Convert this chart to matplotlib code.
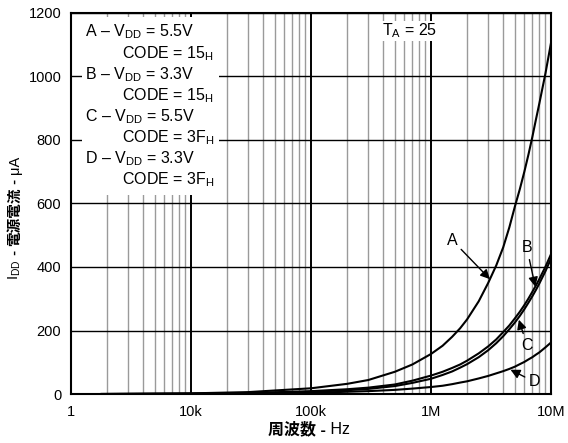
import numpy as np
import matplotlib
matplotlib.use('Agg')
import matplotlib.pyplot as plt
from matplotlib.patches import Rectangle
from matplotlib.ticker import LogLocator, NullFormatter

plt.rcParams['font.family'] = ['Liberation Sans', 'Noto Sans CJK JP']
plt.rcParams['mathtext.fontset'] = 'custom'
plt.rcParams['mathtext.rm'] = 'Liberation Sans'
plt.rcParams['mathtext.default'] = 'regular'

# supply current (uA) vs clock frequency (Hz), four supply/code conditions
freq = [1.8e3, 1e4, 3e4, 1e5, 2e5, 3e5, 5e5, 7e5, 1e6, 1.25e6, 1.5e6, 1.75e6, 2e6, 2.5e6,
        3e6, 3.5e6, 4e6, 4.5e6, 5e6, 5.5e6, 6e6, 6.5e6, 7e6, 7.5e6, 8e6, 9e6, 1e7]
idd_a = [0, 2, 6, 18, 32, 44, 70, 93, 126, 152, 180, 207, 235, 292,
         350, 405, 462, 525, 590, 645, 700, 755, 810, 865, 915, 1010, 1105]
idd_b = [0, 1, 3, 9, 15, 20, 30, 42, 58, 70, 82, 93, 105, 128,
         150, 172, 195, 216, 238, 259, 280, 301, 322, 342, 362, 401, 440]
idd_c = [0, 1, 2, 7, 12, 16, 25, 35, 48, 60, 71, 83, 94, 116,
         138, 160, 182, 204, 225, 246, 267, 288, 308, 328, 348, 387, 426]
idd_d = [0, 0, 1, 4, 7, 9, 13, 17, 22, 26, 31, 36, 40, 49,
         57, 65, 72, 79, 86, 94, 101, 109, 116, 124, 131, 147, 162]

xticks = [1e3, 1e4, 1e5, 1e6, 1e7]
xticklabels = ['1', '10k', '100k', '1M', '10M']
yticks = [0, 200, 400, 600, 800, 1000, 1200]

legend_lines = [
    ('A – V$_{DD}$ = 5.5V', 'CODE = 15$_{H}$'),
    ('B – V$_{DD}$ = 3.3V', 'CODE = 15$_{H}$'),
    ('C – V$_{DD}$ = 5.5V', 'CODE = 3F$_{H}$'),
    ('D – V$_{DD}$ = 3.3V', 'CODE = 3F$_{H}$'),
]

fs = 10.5
fs_big = 11.5
fig = plt.figure(figsize=(5.68, 4.43), dpi=100)
ax = fig.add_axes([0.125, 0.1106, 0.845, 0.8601])

ax.set_xscale('log')
ax.set_xlim(1e3, 1e7)
ax.set_ylim(0, 1200)
ax.set_xticks(xticks)
ax.set_xticklabels(xticklabels)
ax.xaxis.set_minor_locator(LogLocator(base=10, subs=np.arange(2, 10)))
ax.xaxis.set_minor_formatter(NullFormatter())
ax.set_yticks(yticks)
ax.tick_params(which='both', length=0, labelsize=fs)
ax.tick_params(axis='x', pad=8)
ax.tick_params(axis='y', pad=7)

ax.set_axisbelow(True)
ax.grid(which='minor', axis='x', color='#9a9a9a', lw=1.0)
ax.grid(which='major', axis='x', color='k', lw=1.4)
ax.grid(which='major', axis='y', color='k', lw=1.0)
for sp in ax.spines.values():
    sp.set_linewidth(1.5)

for y in (idd_a, idd_b, idd_c, idd_d):
    ax.plot(freq, y, color='k', lw=1.5, zorder=3)

# white block behind the condition list
ax.add_patch(Rectangle((0.023, 0.522), 0.285, 0.468, transform=ax.transAxes,
                       facecolor='white', edgecolor='none', zorder=1.5))
row = 0
for first, second in legend_lines:
    ax.text(0.029, 0.950 - row * 0.0555, first, transform=ax.transAxes,
            fontsize=fs_big, va='center', ha='left', zorder=4)
    ax.text(0.106, 0.950 - (row + 1) * 0.0555, second, transform=ax.transAxes,
            fontsize=fs_big, va='center', ha='left', zorder=4)
    row += 2

ax.text(0.706, 0.953, 'T$_{A}$ = 25', transform=ax.transAxes, fontsize=fs_big,
        ha='center', va='center', zorder=4,
        bbox=dict(facecolor='white', edgecolor='none', pad=0.5))

lf = np.log10(freq)


def on_curve(f, curve):
    return np.interp(np.log10(f), lf, curve)


arrow = dict(arrowstyle='-|>', color='k', lw=1.0, mutation_scale=14,
             shrinkA=1, shrinkB=0)
ax.annotate('A', xy=(3.1e6, on_curve(3.1e6, idd_a)), xytext=(1.5e6, 485),
            fontsize=fs_big, ha='center', va='center', arrowprops=arrow, zorder=5)
ax.annotate('B', xy=(7.4e6, on_curve(7.4e6, idd_b)), xytext=(6.3e6, 460),
            fontsize=fs_big, ha='center', va='center', arrowprops=arrow, zorder=5)
ax.annotate('C', xy=(5.4e6, on_curve(5.4e6, idd_c) - 8), xytext=(6.3e6, 154),
            fontsize=fs_big, ha='center', va='center', arrowprops=arrow, zorder=5)
ax.annotate('D', xy=(4.6e6, on_curve(4.6e6, idd_d) - 4), xytext=(7.3e6, 38),
            fontsize=fs_big, ha='center', va='center', arrowprops=arrow, zorder=5)

# axis titles built from pieces so the kanji can be bold
prev = None
for s, w in [('周波数 -', 'bold'), (' Hz', 'normal')]:
    if prev is None:
        prev = fig.text(0.472, 0.020, s, fontsize=fs_big, fontweight=w,
                        ha='left', va='baseline')
    else:
        prev = ax.annotate(s, xy=(1, 0.020), xycoords=(prev, 'figure fraction'),
                           fontsize=fs_big, fontweight=w, ha='left', va='baseline',
                           annotation_clip=False)

prev = None
for s, w in [('I$_{DD}$', 'normal'), (' - ', 'bold'), ('電源電流', 'bold'), (' - ', 'bold'), ('μA', 'normal')]:
    if prev is None:
        prev = fig.text(0.0335, 0.368, s, fontsize=fs, fontweight=w, rotation=90,
                        rotation_mode='anchor', ha='left', va='baseline')
    else:
        prev = ax.annotate(s, xy=(0.0335, 1), xycoords=('figure fraction', prev),
                           fontsize=fs, fontweight=w, rotation=90,
                           rotation_mode='anchor', ha='left', va='baseline',
                           annotation_clip=False)

fig.savefig('out.png', dpi=100)
